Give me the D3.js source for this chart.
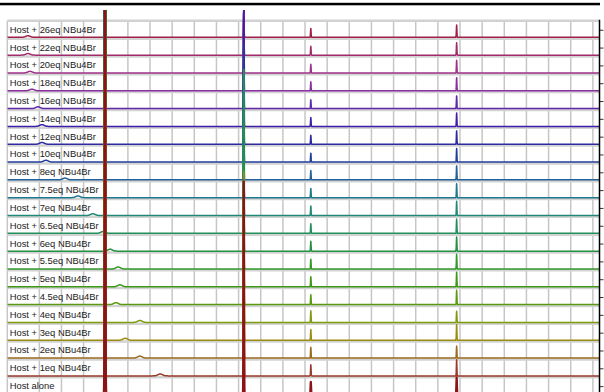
<!DOCTYPE html>
<html><head><meta charset="utf-8">
<script src="https://cdn.jsdelivr.net/npm/d3@7"></script>
<style>html,body{margin:0;padding:0;background:#fff;overflow:hidden}</style>
</head><body><svg id="c" width="604" height="392"></svg>
<script>
// rows from top (index 0) to bottom
const labels = ["Host + 26eq NBu4Br","Host + 22eq NBu4Br","Host + 20eq NBu4Br","Host + 18eq NBu4Br",
 "Host + 16eq NBu4Br","Host + 14eq NBu4Br","Host + 12eq NBu4Br","Host + 10eq NBu4Br","Host + 8eq NBu4Br",
 "Host + 7.5eq NBu4Br","Host + 7eq NBu4Br","Host + 6.5eq NBu4Br","Host + 6eq NBu4Br","Host + 5.5eq NBu4Br",
 "Host + 5eq NBu4Br","Host + 4.5eq NBu4Br","Host + 4eq NBu4Br","Host + 3eq NBu4Br","Host + 2eq NBu4Br",
 "Host + 1eq NBu4Br","Host alone"];
const colors = ["#9e2248","#a02a6a","#9e3288","#8a2ea0","#6226a8","#3e1ea6","#2e2aa0","#203e9c","#22609a",
 "#207890","#208878","#20905a","#229040","#349828","#3e9818","#5a9a10","#7e9a10","#9a8c10","#9a6a20",
 "#9a3a2a","#8c1414"];
// chemical shift (ppm) of the moving signal, and its height (a.u., 1 = one stack offset)
const shiftPpm = [12.755,12.755,12.71,12.665,12.53,12.44,12.44,12.35,11.92,11.63,11.29,11.06,10.90,10.72,10.68,10.77,10.23,10.56,10.23,9.77,9.4];
const shiftHeight = [0.09,0.09,0.09,0.09,0.1,0.1,0.1,0.1,0.1,0.1,0.1,0.1,0.11,0.11,0.11,0.11,0.11,0.11,0.11,0.11,0];
// fixed signals: ppm and heights per row
const peakPpm = [11.016, 7.883, 6.369, 3.076];
const peakAHeight = [25,25,25,25,25,25,25,25,25,25,25,25,25,25,25,25,25,25,25,25,25];
const peakBHeight = [1.6,2.6,3.6,4.6,5.6,6.6,5.6,6.6,6.2,7.2,8.2,9.2,8.3,4.7,5.8,6.8,8.5,9.3,10.0,10.8,11.9];
const peakCHeight = [0.5,0.5,0.49,0.5,0.49,0.5,0.5,0.5,0.52,0.52,0.54,0.54,0.55,0.55,0.56,0.56,0.65,0.6,0.6,0.62,0.67];
const peakDHeight = [0.69,0.69,0.71,0.73,0.71,0.75,0.75,0.76,0.78,0.78,0.8,0.8,0.8,0.82,0.82,0.8,0.63,0.88,0.67,0.9,0.92];
const gridPpm = d3.range(0, 12.51, 0.5);

const n = labels.length;
const svg = d3.select("#c");
const x = d3.scaleLinear().domain([13.223, -0.15]).range([7.3, 599.5]);
const y = d3.scaleLinear().domain([0, 21.533]).range([393.7, 10]);
const offset = i => n - 1 - i;

// top black rule
svg.append("rect").attr("x",0).attr("y",2.8).attr("width",600).attr("height",2.5).attr("fill","#000");

// vertical grid
const gTop = y(21 - 0.075);
svg.append("g").selectAll("line").data([13.223].concat(gridPpm)).join("line")
  .attr("x1",d=>x(d)).attr("x2",d=>x(d)).attr("y1",gTop).attr("y2",392)
  .attr("stroke","#c6c6c6").attr("stroke-width",1.5);
// horizontal grid
svg.append("g").selectAll("line").data(d3.range(0,22)).join("line")
  .attr("x1",x(13.223)).attr("x2",x(-0.15))
  .attr("y1",d=>y(d-0.075)).attr("y2",d=>y(d-0.075))
  .attr("stroke","#d2d2d2").attr("stroke-width",2.5);

// spectra
svg.append("clipPath").attr("id","clp").append("rect")
  .attr("x",7.3).attr("y",10).attr("width",592.2).attr("height",382);
const samples = d3.merge([d3.range(-0.15, 13.223, 0.003), peakPpm, shiftPpm]).sort((a,b)=>a-b);
const gauss = (v,c,h,s) => h*Math.exp(-0.5*((v-c)/s)**2);
const peakWidth = [0.008, 0.006, 0.006, 0.006];
function spectrum(i){
  const hs = [peakAHeight[i], peakBHeight[i], peakCHeight[i], peakDHeight[i]];
  return samples.map(v => {
    let s = gauss(v, shiftPpm[i], shiftHeight[i], 0.05);
    peakPpm.forEach((p,k) => { s += gauss(v, p, hs[k], peakWidth[k]); });
    return [v, s];
  });
}
const line = d3.line().x(d=>x(d[0])).y(d=>d[1]);
const gs = svg.append("g").attr("clip-path","url(#clp)");
d3.range(n).forEach(i => {
  const pts = spectrum(i).map(([v,s]) => [v, y(offset(i) + Math.min(s, 30))]);
  gs.append("path").attr("d", line(pts)).attr("fill","none")
    .attr("stroke", colors[i]).attr("stroke-width", i === n-1 ? 2.2 : 1.5)
    .attr("stroke-linejoin","round");
});

// labels
svg.append("g").selectAll("text").data(labels).join("text")
  .attr("x",9.7).attr("y",(d,i)=>y(offset(i)) - 4.6)
  .attr("font-family","'Liberation Sans', Arial, sans-serif").attr("font-size","9.4px")
  .attr("fill","#1a1a1a").text(d=>d);

// right axis
const ax = svg.append("g").attr("transform","translate(599.5,0)")
  .call(d3.axisRight(y).tickValues(d3.range(0,21).map(k=>k+0.425)).tickSize(4).tickFormat(""));
ax.select(".domain").remove();
ax.selectAll(".tick line").attr("stroke","#333");
svg.append("line").attr("x1",599.5).attr("x2",599.5).attr("y1",gTop-1).attr("y2",392)
  .attr("stroke","#000").attr("stroke-width",1.5);
</script></body></html>
